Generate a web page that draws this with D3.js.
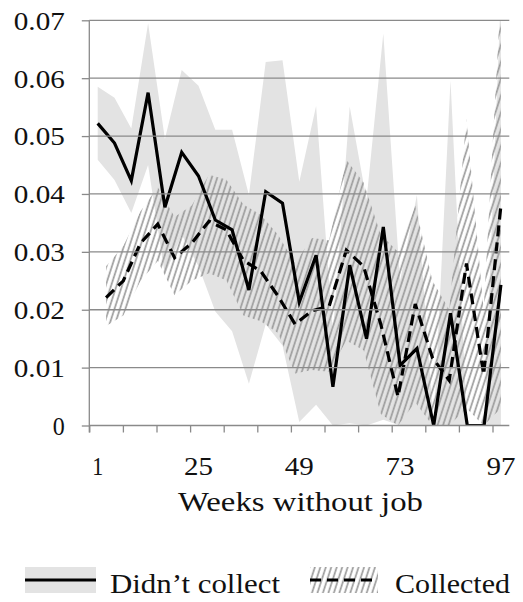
<!DOCTYPE html>
<html>
<head>
<meta charset="utf-8">
<script src="https://cdn.jsdelivr.net/npm/d3@7/dist/d3.min.js"></script>
<style>
  html, body { margin: 0; padding: 0; background: #fff; }
  svg { display: block; }
  text { font-family: "Liberation Serif", "DejaVu Serif", serif; fill: #111; }
</style>
</head>
<body>
<svg id="chart" width="523" height="602"></svg>
<script>
// ---------- data ----------
const weeksDidnt = [1, 5, 9, 13, 17, 21, 25, 29, 33, 37, 41, 45, 49, 53, 57, 61, 65, 69, 73, 77, 81, 85, 89, 93, 97];
const didntCollect = [0.0522, 0.0488, 0.0423, 0.0575, 0.0377, 0.0472, 0.0431, 0.0355, 0.0338, 0.0234, 0.0404, 0.0384, 0.0213, 0.0294, 0.0067, 0.0277, 0.0150, 0.0343, 0.0104, 0.0133, 0, 0.0194, 0, 0, 0.0243];
const didntHi = [0.0585, 0.0566, 0.0513, 0.0695, 0.0495, 0.0614, 0.0587, 0.0511, 0.0511, 0.0398, 0.0628, 0.0631, 0.0421, 0.0552, 0.0160, 0.0551, 0.0390, 0.0677, 0.0250, 0.0398, 0, 0.0596, 0, 0, 0.0750];
const didntLo = [0.0459, 0.0424, 0.0367, 0.0450, 0.0260, 0.0330, 0.0275, 0.0197, 0.0163, 0.0072, 0.0175, 0.0138, 0.0006, 0.0036, 0, 0.0004, 0, 0.0010, 0, 0, 0, 0, 0, 0, 0];

const weeksCollected = [3, 7.1, 11.2, 15.3, 19.3, 23.4, 27.5, 31.6, 35.7, 39.8, 43.9, 48, 52, 56.1, 60.2, 64.3, 68.4, 72.5, 76.6, 80.7, 84.7, 88.8, 92.9, 97];
const collected = [0.0221, 0.0250, 0.0315, 0.0348, 0.0290, 0.0315, 0.0353, 0.0338, 0.0285, 0.0267, 0.0224, 0.0175, 0.0198, 0.0206, 0.0303, 0.0275, 0.0175, 0.0050, 0.0210, 0.0117, 0.0078, 0.0280, 0.0088, 0.0380];
const collectedHi = [0.0275, 0.0310, 0.0370, 0.0412, 0.0360, 0.0380, 0.0433, 0.0425, 0.0382, 0.0364, 0.0330, 0.0280, 0.0324, 0.0320, 0.0459, 0.0420, 0.0330, 0.0300, 0.0380, 0.0250, 0.0200, 0.0530, 0.0200, 0.0750];
const collectedLo = [0.0172, 0.0190, 0.0250, 0.0284, 0.0225, 0.0250, 0.0263, 0.0251, 0.0190, 0.0180, 0.0160, 0.0090, 0.0096, 0.0093, 0.0147, 0.0130, 0.0020, 0, 0.0040, 0, 0, 0.0030, 0, 0.0030];

const xTickLabels = [1, 25, 49, 73, 97];
const xMinorTicks = [-1, 7, 15, 23, 31, 39, 47, 55, 63, 71, 79, 87, 95];
const yTickValues = [0, 0.01, 0.02, 0.03, 0.04, 0.05, 0.06, 0.07];
const yTickLabels = ["0", "0.01", "0.02", "0.03", "0.04", "0.05", "0.06", "0.07"];
const xTitle = "Weeks without job";
const legendLabels = ["Didn\u2019t collect", "Collected"];

// ---------- layout ----------
const svg = d3.select("#chart");
const L = 89.3, R = 509.3, T = 20.3, B = 425.5;
const x = d3.scaleLinear().domain([-1, 99]).range([L, R]);
const y = d3.scaleLinear().domain([0, 0.07]).range([B, T]);
const axisColor = "#8a8a8a";
const FS = 26;

const defs = svg.append("defs");
defs.append("clipPath").attr("id", "plotclip")
  .append("rect").attr("x", L).attr("y", T).attr("width", R - L).attr("height", B - T);
const pat = defs.append("pattern").attr("id", "hatch")
  .attr("patternUnits", "userSpaceOnUse").attr("width", 5.2).attr("height", 20)
  .attr("patternTransform", "rotate(18)");
pat.append("line").attr("x1", 1.5).attr("x2", 1.5).attr("y1", -2).attr("y2", 22)
  .attr("stroke", "#9c9c9c").attr("stroke-width", 1.7);

const plot = svg.append("g").attr("clip-path", "url(#plotclip)");

const rowsA = weeksDidnt.map((w, i) => ({ w, v: didntCollect[i], hi: didntHi[i], lo: didntLo[i] }));
const rowsB = weeksCollected.map((w, i) => ({ w, v: collected[i], hi: collectedHi[i], lo: collectedLo[i] }));

const area = d3.area().x(d => x(d.w)).y0(d => y(d.lo)).y1(d => y(d.hi));
plot.append("path").datum(rowsA).attr("d", area).attr("fill", "#e3e3e3");
plot.append("path").datum(rowsB).attr("d", area).attr("fill", "url(#hatch)");

// gridlines
svg.append("g").selectAll("line").data(yTickValues.slice(1)).join("line")
  .attr("x1", L).attr("x2", R).attr("y1", d => y(d)).attr("y2", d => y(d))
  .attr("stroke", axisColor).attr("stroke-width", 1.3);

// y axis
const yAxis = d3.axisLeft(y).tickValues(yTickValues).tickFormat((d, i) => yTickLabels[i]).tickSize(7.5).tickPadding(17);
const gy = svg.append("g").attr("transform", `translate(${L},0)`).call(yAxis);
gy.select(".domain").remove();
gy.append("line").attr("x1", 0).attr("x2", 0).attr("y1", T).attr("y2", B + 7).attr("stroke", axisColor).attr("stroke-width", 1.3);
gy.selectAll(".tick line").attr("stroke", axisColor).attr("stroke-width", 1.3);
gy.selectAll(".tick text").attr("font-size", FS).attr("font-family", "Liberation Serif")
  .attr("fill", "#111").attr("dy", "0.34em")
  .attr("textLength", d => d === 0 ? 12 : 51).attr("lengthAdjust", "spacingAndGlyphs");

// x axis
const xAxis = d3.axisBottom(x).tickValues(xMinorTicks).tickFormat("").tickSize(7);
const gx = svg.append("g").attr("transform", `translate(0,${B})`).call(xAxis);
gx.select(".domain").remove();
gx.append("line").attr("x1", L).attr("x2", R).attr("y1", 0).attr("y2", 0).attr("stroke", axisColor).attr("stroke-width", 1.3);
gx.selectAll(".tick line").attr("stroke", axisColor).attr("stroke-width", 1.3);
svg.append("g").selectAll("text").data(xTickLabels).join("text")
  .attr("x", d => x(d)).attr("y", 475).attr("text-anchor", "middle")
  .attr("font-size", FS).attr("textLength", d => d < 10 ? 11 : 29).attr("lengthAdjust", "spacingAndGlyphs")
  .text(d => d);

svg.append("text").attr("x", 300.5).attr("y", 511).attr("text-anchor", "middle")
  .attr("font-size", 27).attr("textLength", 245).attr("lengthAdjust", "spacingAndGlyphs").text(xTitle);

// lines
const line = d3.line().x(d => x(d.w)).y(d => y(d.v));
plot.append("path").datum(rowsB).attr("d", line).attr("fill", "none")
  .attr("stroke", "#000").attr("stroke-width", 3.2).attr("stroke-dasharray", "11,6");
plot.append("path").datum(rowsA).attr("d", line).attr("fill", "none")
  .attr("stroke", "#000").attr("stroke-width", 3.2).attr("stroke-linejoin", "miter");

// legend
const lg = svg.append("g");
lg.append("rect").attr("x", 25).attr("y", 567).attr("width", 71).attr("height", 26).attr("fill", "#e3e3e3");
lg.append("line").attr("x1", 25).attr("x2", 96).attr("y1", 580).attr("y2", 580).attr("stroke", "#000").attr("stroke-width", 3.2);
lg.append("text").attr("x", 110).attr("y", 593).attr("font-size", 27)
  .attr("textLength", 170).attr("lengthAdjust", "spacingAndGlyphs").text(legendLabels[0]);
lg.append("rect").attr("x", 310).attr("y", 567).attr("width", 68).attr("height", 26).attr("fill", "url(#hatch)");
lg.append("line").attr("x1", 310).attr("x2", 378).attr("y1", 580).attr("y2", 580).attr("stroke", "#000")
  .attr("stroke-width", 3.2).attr("stroke-dasharray", "11,6");
lg.append("text").attr("x", 395).attr("y", 593).attr("font-size", 27)
  .attr("textLength", 115).attr("lengthAdjust", "spacingAndGlyphs").text(legendLabels[1]);
</script>
</body>
</html>
